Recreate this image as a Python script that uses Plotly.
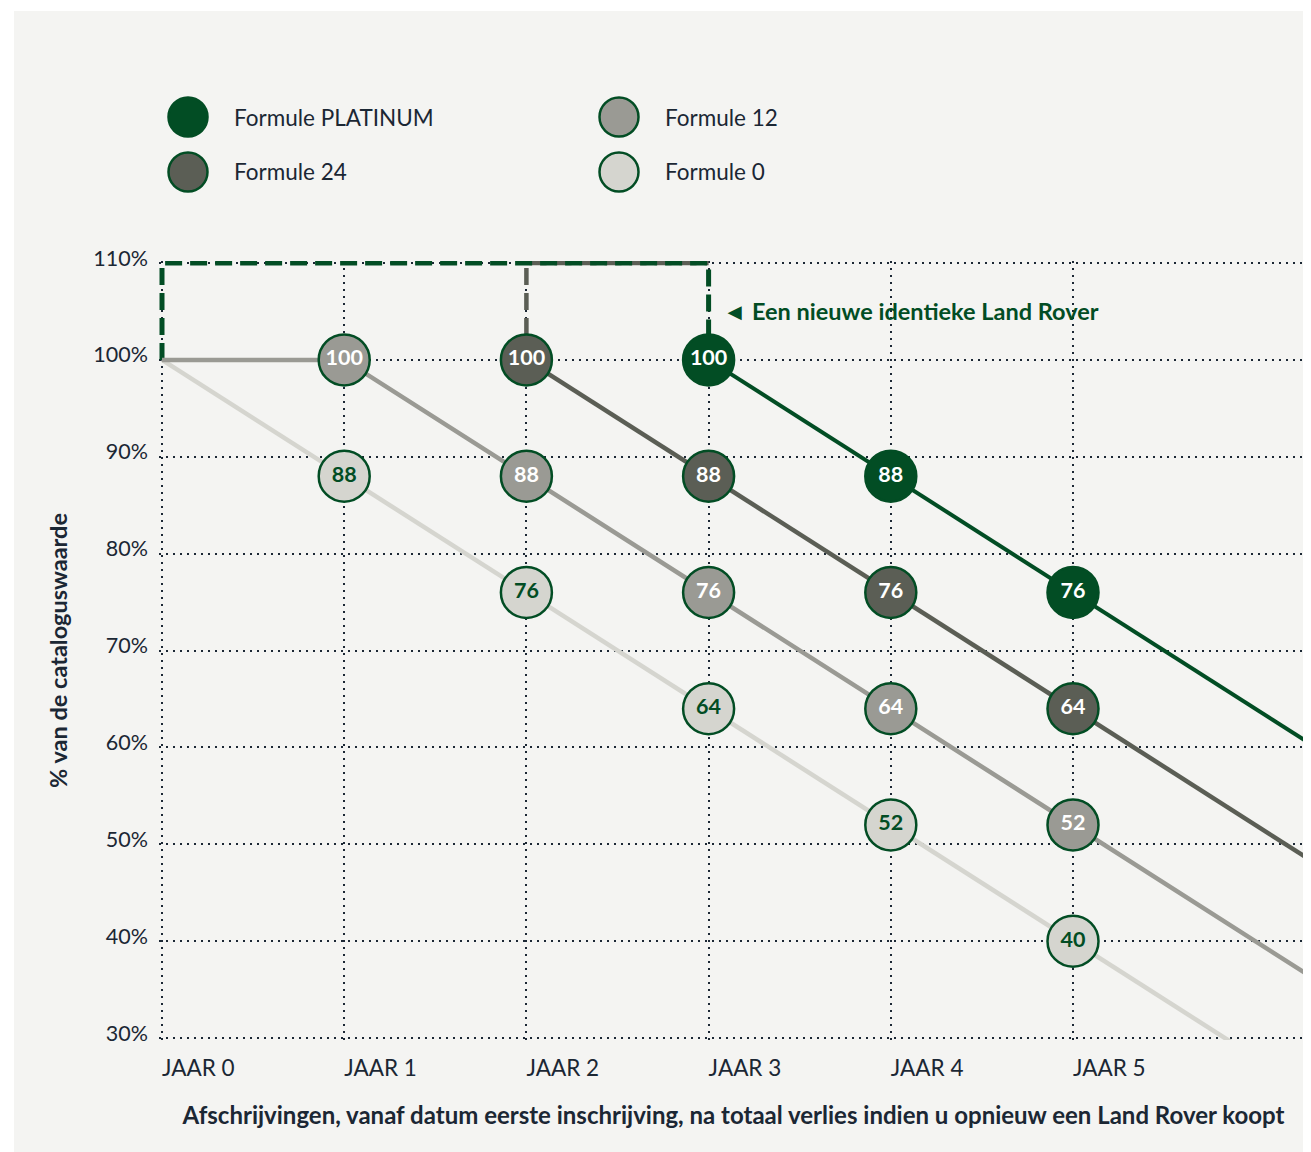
import plotly.graph_objects as go

# ---------------- data ----------------
years = [0, 1, 2, 3, 4, 5]
year_labels = ["JAAR 0", "JAAR 1", "JAAR 2", "JAAR 3", "JAAR 4", "JAAR 5"]
pct_ticks = [30, 40, 50, 60, 70, 80, 90, 100, 110]
pct_labels = ["30%", "40%", "50%", "60%", "70%", "80%", "90%", "100%", "110%"]

# % of catalogue value per year (None = formula not yet started)
f0_vals = [100, 88, 76, 64, 52, 40]
f12_vals = [100, 100, 88, 76, 64, 52]
f24_vals = [None, None, 100, 88, 76, 64]
plat_vals = [None, None, None, 100, 88, 76]

# continuation of each depreciation line past the last year shown
ext_year = 7
f0_ext = 16
f12_ext = 28
f24_ext = 40
plat_ext = 52

# "new identical Land Rover" bracket (Platinum) and Formule 24 bracket
new_car_x = [0, 0, 3, 3]
new_car_y = [100, 110, 110, 100]
f24_bracket_x = [2, 2, 3]
f24_bracket_y = [100, 110, 110]

names = ["Formule PLATINUM", "Formule 12", "Formule 24", "Formule 0"]
annotation_text = "◄ Een nieuwe identieke Land Rover"
x_title = "Afschrijvingen, vanaf datum eerste inschrijving, na totaal verlies indien u opnieuw een Land Rover koopt"
y_title = "% van de cataloguswaarde"

# ---------------- styles ----------------
GREEN = "#024d24"
NAVY = "#1b2734"
BG = "#f4f4f2"
FONT = "Lato"
colors = {
    "Formule PLATINUM": GREEN,
    "Formule 24": "#5b5e55",
    "Formule 12": "#9a9a94",
    "Formule 0": "#d5d5cf",
}
text_colors = {
    "Formule PLATINUM": "white",
    "Formule 24": "white",
    "Formule 12": "white",
    "Formule 0": GREEN,
}
series = {
    "Formule 0": (f0_vals, f0_ext),
    "Formule 12": (f12_vals, f12_ext),
    "Formule 24": (f24_vals, f24_ext),
    "Formule PLATINUM": (plat_vals, plat_ext),
}

OFF = 8  # page body margin
W_FIG, H_FIG = 1311, 1152
PX_PER_YEAR = 182.2
PX_PER_PCT = 9.6875
# plot area (figure px): x=0 at 154, y=110 at 255, y=30 at 1030, right edge 1300
L = 154 - 3
R = W_FIG - 1300
T = 255 - 2
B = H_FIG - 1032
PW = W_FIG - L - R
PH = H_FIG - T - B


def pxx(px):  # screen px -> paper
    return (px - OFF - L) / PW


def pxy(py):
    return (H_FIG - B - (py - OFF)) / PH


fig = go.Figure()

# brackets
fig.add_trace(go.Scatter(x=f24_bracket_x, y=f24_bracket_y, mode="lines",
                         line=dict(color=colors["Formule 24"], width=4.5, dash="17px,8px"),
                         hoverinfo="skip", showlegend=False))
fig.add_trace(go.Scatter(x=new_car_x, y=new_car_y, mode="lines",
                         line=dict(color=GREEN, width=5, dash="17px,8px"),
                         hoverinfo="skip", showlegend=False))

# lines
for name in ["Formule 0", "Formule 12", "Formule 24", "Formule PLATINUM"]:
    vals, ext = series[name]
    xs = [x for x, v in zip(years, vals) if v is not None] + [ext_year]
    ys = [v for v in vals if v is not None] + [ext]
    fig.add_trace(go.Scatter(x=xs, y=ys, mode="lines",
                             line=dict(color=colors[name], width=4.5 if name != "Formule PLATINUM" else 4),
                             hoverinfo="skip", showlegend=False))

# labelled markers
for name in ["Formule 0", "Formule 12", "Formule 24", "Formule PLATINUM"]:
    vals, _ = series[name]
    xs = [x for x, v in zip(years, vals) if v is not None and x >= 1]
    ys = [v for x, v in zip(years, vals) if v is not None and x >= 1]
    fig.add_trace(go.Scatter(
        x=xs, y=ys, mode="markers+text", text=[str(v) for v in ys],
        textposition="middle center",
        textfont=dict(family=FONT, size=21.5, color=text_colors[name], weight="bold"),
        marker=dict(size=51, color=colors[name],
                    line=dict(color=GREEN, width=2.5)),
        cliponaxis=False, name=name, showlegend=False))

shapes = [dict(type="rect", xref="paper", yref="paper", layer="below",
               x0=pxx(14), x1=pxx(1330), y0=pxy(1170), y1=pxy(11),
               fillcolor=BG, line=dict(width=0))]
annotations = []
legend_pos = [(188, 117), (619, 117), (188, 172), (619, 172)]
for name, (cx, cy) in zip(names, legend_pos):
    shapes.append(dict(type="circle", xref="paper", yref="paper",
                       xsizemode="pixel", ysizemode="pixel",
                       xanchor=pxx(cx), yanchor=pxy(cy),
                       x0=-19.5, x1=19.5, y0=-19.5, y1=19.5,
                       fillcolor=colors[name],
                       line=dict(color=GREEN, width=2.5)))
    annotations.append(dict(xref="paper", yref="paper", x=pxx(cx + 44), y=pxy(cy),
                            xanchor="left", yanchor="middle", showarrow=False,
                            text=name, font=dict(family=FONT, size=22.5, color=NAVY)))

annotations.append(dict(x=3, y=105, xref="x", yref="y", xanchor="left", yanchor="middle",
                        xshift=12, showarrow=False, text=annotation_text,
                        font=dict(family=FONT, size=23.5, color=GREEN, weight="bold")))

grid = dict(showgrid=True, gridcolor=NAVY, gridwidth=2, griddash="2px,5px",
            zeroline=False, showline=False, ticks="")

fig.update_layout(
    width=W_FIG, height=H_FIG,
    margin=dict(l=L, r=R, t=T, b=B),
    paper_bgcolor="white", plot_bgcolor="rgba(0,0,0,0)",
    font=dict(family=FONT, color=NAVY),
    showlegend=False,
    shapes=shapes, annotations=annotations,
    xaxis=dict(range=[-3 / PX_PER_YEAR, (1300 - 154) / PX_PER_YEAR],
               tickvals=years, ticktext=year_labels,
               ticklabelposition="outside right", ticklabelstandoff=12,
               tickfont=dict(family=FONT, size=22.5, color=NAVY),
               title=dict(text=x_title, standoff=27,
                          font=dict(family=FONT, size=24, color=NAVY, weight="bold")),
               **grid),
    yaxis=dict(range=[30 - 2 / PX_PER_PCT, 110 + 2 / PX_PER_PCT],
               tickvals=pct_ticks, ticktext=pct_labels,
               tickfont=dict(family=FONT, size=21.5, color=NAVY),
               ticklabelshift=-5, ticklabelstandoff=10,
               title=dict(text=y_title, standoff=19,
                          font=dict(family=FONT, size=23.5, color=NAVY, weight="bold")),
               **grid),
)

fig.write_html("out.html")
